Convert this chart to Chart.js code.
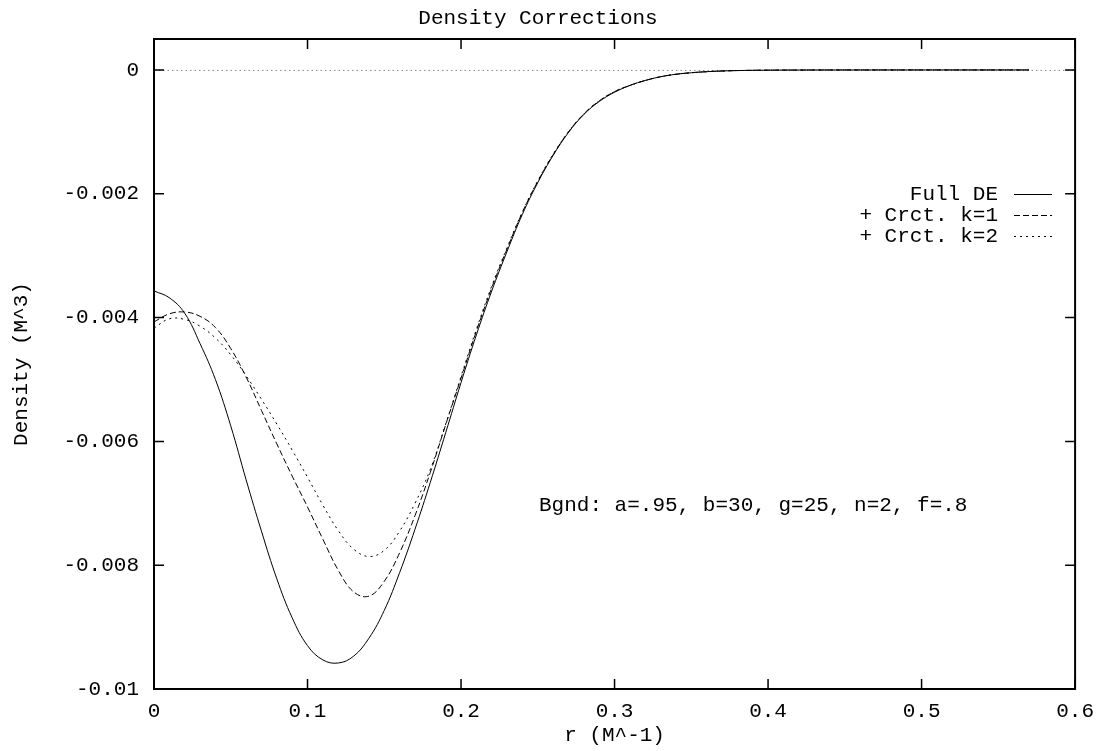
<!DOCTYPE html>
<html>
<head>
<meta charset="utf-8">
<script src="https://cdn.jsdelivr.net/npm/chart.js@4/dist/chart.umd.min.js"></script>
<style>
  html, body { margin: 0; padding: 0; background: #fff; }
  #wrap { width: 1104px; height: 751px; position: relative; }
</style>
</head>
<body>
<div id="wrap"><canvas id="c" width="1104" height="751"></canvas></div>
<script>
const rValues = [0,0.01,0.02,0.03,0.04,0.05,0.06,0.07,0.08,0.09,0.10,0.11,0.12,0.13,0.14,0.15,0.16,0.17,0.18,0.19,0.20,0.21,0.22,0.23,0.24,0.25,0.26,0.27,0.28,0.29,0.30,0.31,0.32,0.33,0.34,0.35,0.36,0.37,0.38,0.39,0.40,0.41,0.42,0.43,0.44,0.45,0.46,0.47,0.48,0.49,0.50,0.51,0.52,0.53,0.54,0.55,0.56,0.57];

const fullDE = [-0.00357,-0.00368,-0.00393,-0.00442,-0.00500,-0.00575,-0.00662,-0.00745,-0.00822,-0.00885,-0.00930,-0.00953,-0.00958,-0.00947,-0.00918,-0.00873,-0.00812,-0.00742,-0.00666,-0.00586,-0.00505,-0.00428,-0.00357,-0.00293,-0.00233,-0.00182,-0.00138,-0.00101,-0.00072,-0.00051,-0.00036,-0.00025,-0.00017,-0.00011,-0.00007,-0.000045,-0.000028,-0.000017,-0.00001,-0.000006,-0.0000035,-0.000002,-0.0000012,-0.0000007,-0.0000004,-0.0000002,-0.0000001,0,0,0,0,0,0,0,0,0,0,0];

const crctK1 = [-0.00407,-0.00394,-0.00391,-0.00398,-0.00416,-0.00450,-0.00496,-0.00550,-0.00604,-0.00656,-0.00706,-0.00758,-0.00808,-0.00843,-0.00850,-0.00826,-0.00780,-0.00720,-0.00650,-0.00573,-0.00498,-0.00422,-0.00352,-0.00289,-0.00230,-0.00180,-0.00137,-0.00100,-0.00071,-0.00050,-0.00035,-0.00025,-0.00017,-0.00011,-0.00007,-0.000045,-0.000028,-0.000017,-0.00001,-0.000006,-0.0000035,-0.000002,-0.0000012,-0.0000007,-0.0000004,-0.0000002,-0.0000001,0,0,0,0,0,0,0,0,0,0,0];

const crctK2 = [-0.00417,-0.00402,-0.00403,-0.00414,-0.00433,-0.00460,-0.00494,-0.00532,-0.00572,-0.00614,-0.00658,-0.00703,-0.00744,-0.00774,-0.00786,-0.00776,-0.00745,-0.00700,-0.00645,-0.00572,-0.00495,-0.00419,-0.00349,-0.00287,-0.00229,-0.00179,-0.00136,-0.00100,-0.00071,-0.00050,-0.00035,-0.00025,-0.00017,-0.00011,-0.00007,-0.000045,-0.000028,-0.000017,-0.00001,-0.000006,-0.0000035,-0.000002,-0.0000012,-0.0000007,-0.0000004,-0.0000002,-0.0000001,0,0,0,0,0,0,0,0,0,0,0];

const seriesLabels = ["Full DE", "+ Crct. k=1", "+ Crct. k=2"];
const xTickValues = [0, 0.1, 0.2, 0.3, 0.4, 0.5, 0.6];
const yTickValues = [0, -0.002, -0.004, -0.006, -0.008, -0.01];
const titleText = "Density Corrections";
const xTitle = "r (M^-1)";
const yTitle = "Density (M^3)";
const noteText = "Bgnd: a=.95, b=30, g=25, n=2, f=.8";

const FONT = "'Liberation Mono', 'DejaVu Sans Mono', monospace";
const FS = 21;

function pts(ys) { return rValues.map((r, i) => ({ x: r, y: ys[i] })); }

const dashes = [[], [6, 3], [2, 4]];

const gnuplotPlugin = {
  id: 'gnuplotDeco',
  beforeDatasetsDraw(chart) {
    const { ctx, chartArea: a, scales } = chart;
    const y0 = scales.y.getPixelForValue(0);
    ctx.save();
    ctx.strokeStyle = '#888';
    ctx.lineWidth = 1;
    ctx.setLineDash([1.5, 3]);
    ctx.beginPath();
    ctx.moveTo(a.left, y0 + 0.5);
    ctx.lineTo(a.right, y0 + 0.5);
    ctx.stroke();
    ctx.restore();
  },
  afterDatasetsDraw(chart) {
    const { ctx, chartArea: a, scales } = chart;
    ctx.save();
    ctx.strokeStyle = '#000';
    ctx.lineWidth = 2;
    ctx.setLineDash([]);
    ctx.strokeRect(a.left, a.top, a.right - a.left, a.bottom - a.top);
    const tl = 10;
    ctx.lineWidth = 1.5;
    ctx.beginPath();
    xTickValues.forEach(v => {
      const px = scales.x.getPixelForValue(v);
      ctx.moveTo(px, a.bottom); ctx.lineTo(px, a.bottom - tl);
      ctx.moveTo(px, a.top); ctx.lineTo(px, a.top + tl);
    });
    yTickValues.forEach(v => {
      const py = scales.y.getPixelForValue(v);
      ctx.moveTo(a.left, py); ctx.lineTo(a.left + tl, py);
      ctx.moveTo(a.right, py); ctx.lineTo(a.right - tl, py);
    });
    ctx.stroke();

    // legend
    ctx.font = FS + 'px ' + FONT;
    ctx.fillStyle = '#000';
    ctx.textAlign = 'right';
    ctx.textBaseline = 'middle';
    const lx = 998, sx0 = 1014, sx1 = 1052, ly0 = 194, dy = 21;
    chart.data.datasets.forEach((ds, i) => {
      const y = ly0 + i * dy;
      ctx.fillText(ds.label, lx, y);
      ctx.lineWidth = 1;
      ctx.setLineDash(ds.borderDash || []);
      ctx.beginPath();
      ctx.moveTo(sx0, y + 0.5);
      ctx.lineTo(sx1, y + 0.5);
      ctx.stroke();
    });
    ctx.setLineDash([]);

    // annotation
    ctx.textAlign = 'left';
    ctx.fillText(noteText, 539, 505);
    ctx.restore();
  }
};

Chart.defaults.color = '#000';
Chart.defaults.font.family = FONT;
Chart.defaults.font.size = FS;

new Chart(document.getElementById('c'), {
  type: 'line',
  data: {
    datasets: [fullDE, crctK1, crctK2].map((ys, i) => ({
      label: seriesLabels[i],
      data: pts(ys),
      borderColor: '#000',
      borderWidth: 1,
      borderDash: dashes[i],
      pointRadius: 0,
      fill: false,
      tension: 0.4
    }))
  },
  options: {
    responsive: false,
    animation: false,
    events: [],
    layout: { padding: { left: 0, right: 28, top: 0, bottom: 0 } },
    plugins: {
      legend: { display: false },
      tooltip: { enabled: false },
      title: {
        display: true,
        text: titleText,
        color: '#000',
        font: { family: FONT, size: FS, weight: 'normal', lineHeight: 1.2 },
        padding: { top: 6, bottom: 7.8 }
      }
    },
    scales: {
      x: {
        type: 'linear',
        min: 0, max: 0.6,
        grid: { display: false, drawTicks: false },
        border: { display: false },
        afterBuildTicks(s) { s.ticks = xTickValues.map(v => ({ value: v })); },
        afterFit(s) { s.height = 62; },
        ticks: {
          padding: 10,
          maxRotation: 0,
          autoSkip: false,
          callback: v => String(+v.toFixed(1))
        },
        title: { display: true, text: xTitle, padding: { top: 0, bottom: 3 }, font: { size: FS, lineHeight: 1.2 } }
      },
      y: {
        type: 'linear',
        min: -0.01, max: 0.0005,
        grid: { display: false, drawTicks: false },
        border: { display: false },
        afterBuildTicks(s) { s.ticks = yTickValues.map(v => ({ value: v })); },
        afterFit(s) { s.width = 154; },
        ticks: {
          padding: 15,
          autoSkip: false,
          callback: v => String(+v.toFixed(3))
        },
        title: { display: true, text: yTitle, padding: { top: 9, bottom: 0 }, font: { size: FS, lineHeight: 1.2 } }
      }
    }
  },
  plugins: [gnuplotPlugin]
});
</script>
</body>
</html>
